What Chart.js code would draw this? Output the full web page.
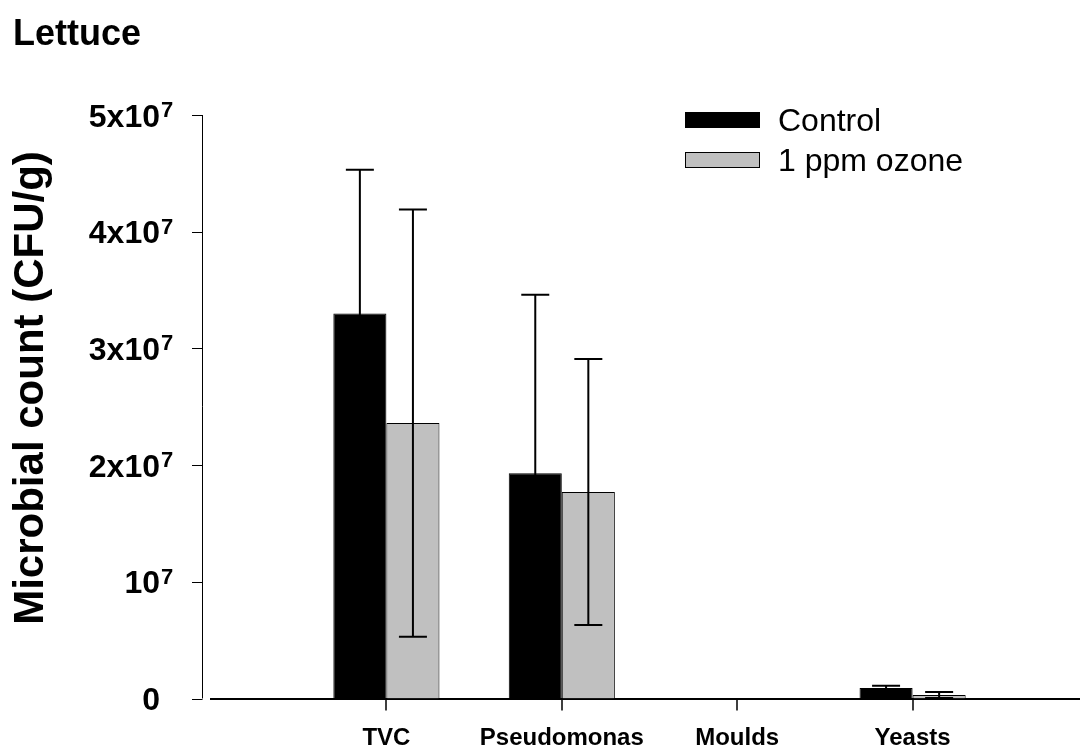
<!DOCTYPE html>
<html>
<head>
<meta charset="utf-8">
<script src="https://cdn.jsdelivr.net/npm/chart.js@4"></script>
<style>
  html, body { margin: 0; padding: 0; background: #fff; overflow: hidden; }
  #wrap { position: relative; width: 1105px; height: 749px; overflow: hidden; }
  #chart { position: absolute; left: 0; top: 0; }
  .title { position: absolute; left: 13px; top: 13px; font: bold 36px "Liberation Sans", Arial, sans-serif; color: #000; line-height: 40px; }
  .legend { position: absolute; left: 685px; top: 100px; font: 32px "Liberation Sans", Arial, sans-serif; color: #000; }
  .legend .row { height: 40px; display: flex; align-items: center; }
  .legend .sw { width: 73px; height: 14px; border: 1px solid #000; margin-right: 18px; }
</style>
</head>
<body>
<div id="wrap">
  <canvas id="chart" width="1105" height="749"></canvas>
  <div class="title">Lettuce</div>
  <div class="legend">
    <div class="row"><div class="sw" style="background:#000"></div>Control</div>
    <div class="row"><div class="sw" style="background:#c0c0c0"></div>1 ppm ozone</div>
  </div>
</div>
<script>
// categories (blank slots at both ends give the axis its margins)
const categories = ["", "TVC", "Pseudomonas", "Moulds", "Yeasts", ""];
const controlValues = [null, 3.30e7, 1.93e7, 0, 9.0e5, null];
const ozoneValues = [null, 2.36e7, 1.77e7, 0, 3.0e5, null];
const controlErrors = [null, 1.23e7, 1.53e7, 0, 2.0e5, null];
const ozoneErrors = [null, 1.83e7, 1.14e7, 0, 2.5e5, null];
const yTickValues = [0, 1e7, 2e7, 3e7, 4e7, 5e7];
const yTickBase = ["0", "10", "2x10", "3x10", "4x10", "5x10"];
const yTickExp = ["", "7", "7", "7", "7", "7"];

const FONT = '"Liberation Sans", Arial, sans-serif';

// error bars drawn from the bar elements and the y scale
const errorBars = {
    id: "errorBars",
    afterDatasetsDraw(chart) {
        const ctx = chart.ctx;
        const y = chart.scales.y;
        const errs = [controlErrors, ozoneErrors];
        chart.data.datasets.forEach(function(ds, di) {
            const meta = chart.getDatasetMeta(di);
            meta.data.forEach(function(bar, i) {
                const v = ds.data[i];
                const e = errs[di][i];
                if (v == null || !e) return;
                const top = y.getPixelForValue(v + e);
                const bot = y.getPixelForValue(v - e);
                ctx.save();
                ctx.strokeStyle = "#000";
                ctx.lineWidth = 2;
                ctx.beginPath();
                ctx.moveTo(bar.x, top);
                ctx.lineTo(bar.x, bot);
                ctx.moveTo(bar.x - 14, top);
                ctx.lineTo(bar.x + 14, top);
                ctx.moveTo(bar.x - 14, bot);
                ctx.lineTo(bar.x + 14, bot);
                ctx.stroke();
                ctx.restore();
            });
        });
    }
};

// detached y axis with superscript tick labels, rotated title, x tick marks
const axesDraw = {
    id: "axesDraw",
    afterDraw(chart) {
        const ctx = chart.ctx;
        const y = chart.scales.y;
        const x = chart.scales.x;
        const axisX = chart.chartArea.left - 9;
        const baseY = y.getPixelForValue(0);
        ctx.save();
        ctx.strokeStyle = "#000";
        ctx.lineWidth = 1;
        ctx.beginPath();
        ctx.moveTo(axisX + 0.5, y.getPixelForValue(yTickValues[yTickValues.length - 1]));
        ctx.lineTo(axisX + 0.5, baseY);
        yTickValues.forEach(function(v) {
            const py = Math.round(y.getPixelForValue(v)) + 0.5;
            ctx.moveTo(axisX - 10, py);
            ctx.lineTo(axisX + 0.5, py);
        });
        ctx.stroke();

        // x tick marks under each named category
        ctx.lineWidth = 1.5;
        ctx.beginPath();
        categories.forEach(function(c, i) {
            if (!c) return;
            const px = Math.round(x.getPixelForTick(i));
            ctx.moveTo(px, baseY);
            ctx.lineTo(px, baseY + 12);
        });
        ctx.stroke();

        ctx.fillStyle = "#000";
        ctx.textBaseline = "alphabetic";
        yTickValues.forEach(function(v, i) {
            const py = y.getPixelForValue(v);
            ctx.font = "bold 32px " + FONT;
            ctx.textAlign = "right";
            ctx.fillText(yTickBase[i], 160, py + 11.5);
            if (yTickExp[i]) {
                ctx.font = "bold 22px " + FONT;
                ctx.textAlign = "left";
                ctx.fillText(yTickExp[i], 161, py + 2);
            }
        });

        ctx.translate(43, 388);
        ctx.rotate(-Math.PI / 2);
        ctx.font = "bold 42px " + FONT;
        ctx.textAlign = "center";
        ctx.fillText("Microbial count (CFU/g)", 0, 0);
        ctx.restore();
    }
};

new Chart(document.getElementById("chart"), {
    type: "bar",
    data: {
        labels: categories,
        datasets: [
            {
                label: "Control",
                data: controlValues,
                backgroundColor: "#000000",
                borderColor: "#000000",
                borderWidth: 1
            },
            {
                label: "1 ppm ozone",
                data: ozoneValues,
                backgroundColor: "#c0c0c0",
                borderColor: "#000000",
                borderWidth: 1
            }
        ]
    },
    options: {
        responsive: false,
        animation: false,
        categoryPercentage: 0.605,
        barPercentage: 1.0,
        layout: { autoPadding: false, padding: { left: 211, top: 115, right: 0, bottom: 0 } },
        plugins: {
            legend: { display: false },
            tooltip: { enabled: false }
        },
        scales: {
            x: {
                offset: false,
                grid: { display: false },
                border: { display: true, color: "#000", width: 2 },
                ticks: {
                    autoSkip: false,
                    maxRotation: 0,
                    padding: 17,
                    color: "#000",
                    font: { family: FONT, size: 24, weight: "bold" }
                },
                afterFit: function(scale) { scale.height = 50.5; }
            },
            y: {
                display: false,
                min: 0,
                max: 5e7
            }
        }
    },
    plugins: [errorBars, axesDraw]
});
</script>
</body>
</html>
